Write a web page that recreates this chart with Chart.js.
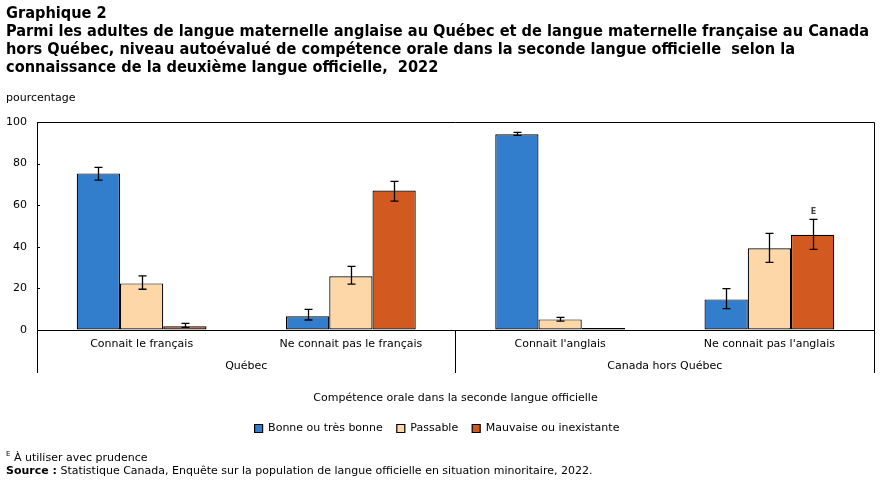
<!DOCTYPE html>
<html lang="fr">
<head>
<meta charset="utf-8">
<title>Graphique 2</title>
<script src="https://cdn.jsdelivr.net/npm/chart.js@4.4.1/dist/chart.umd.min.js"></script>
<style>
  html, body { margin: 0; padding: 0; background: #fff; }
  #wrap { position: relative; width: 880px; height: 480px; overflow: hidden; font-family: "DejaVu Sans", Verdana, sans-serif; color: #000; }
  #chart { position: absolute; left: 0; top: 0; }
  .titre { position: absolute; left: 6px; top: 4px; font: bold 16.2px/18px "DejaVu Sans Condensed", "DejaVu Sans", sans-serif; white-space: nowrap; }
  .unite { position: absolute; left: 6px; top: 91px; font-size: 11px; }
  .notes { position: absolute; left: 6px; top: 448px; font-size: 11px; line-height: 13px; }
  .notes sup { font-size: 7px; }
</style>
</head>
<body>
<div id="wrap">
  <canvas id="chart" width="880" height="480"></canvas>
  <div class="titre">Graphique 2<br>Parmi les adultes de langue maternelle anglaise au Québec et de langue maternelle française au Canada<br>hors Québec, niveau autoévalué de compétence orale dans la seconde langue officielle&nbsp; selon la<br>connaissance de la deuxième langue officielle,&nbsp; 2022</div>
  <div class="unite">pourcentage</div>
  <div class="notes"><sup>E</sup> À utiliser avec prudence<br><b>Source :</b> Statistique Canada, Enquête sur la population de langue officielle en situation minoritaire, 2022.</div>
</div>
<script>
(() => {
  const categories = ['Connait le français', 'Ne connait pas le français', "Connait l'anglais", "Ne connait pas l'anglais"];
  const groups = ['Québec', 'Canada hors Québec'];
  const series = ['Bonne ou très bonne', 'Passable', 'Mauvaise ou inexistante'];

  // valeurs (pourcentage)
  const bonne = [75.3, 6.6, 94.1, 14.7];
  const bonneBas = [72.1, 4.8, 93.6, 10.3];
  const bonneHaut = [78.2, 9.9, 95.0, 19.9];

  const passable = [22.4, 25.8, 5.1, 39.3];
  const passableBas = [19.6, 22.1, 4.3, 32.5];
  const passableHaut = [26.0, 30.6, 6.1, 46.5];

  const mauvaise = [1.8, 67.1, 0.3, 45.8];
  const mauvaiseBas = [1.3, 62.0, null, 38.8];
  const mauvaiseHaut = [3.2, 71.5, null, 53.2];
  const mauvaiseNotes = ['', '', '', 'E'];

  const yTicks = [0, 20, 40, 60, 80, 100];

  const family = '"DejaVu Sans", Verdana, sans-serif';
  Chart.defaults.font.family = family;
  Chart.defaults.font.size = 11;
  Chart.defaults.color = '#000';

  // barres d'erreur + lettre E
  const errorBars = {
    id: 'errorBars',
    afterDatasetsDraw(chart) {
      const ctx = chart.ctx;
      const y = chart.scales.y;
      chart.data.datasets.forEach((ds, i) => {
        const meta = chart.getDatasetMeta(i);
        meta.data.forEach((bar, j) => {
          const lo = ds.errLow[j], hi = ds.errHigh[j];
          if (lo == null || hi == null) return;
          const yl = y.getPixelForValue(lo), yh = y.getPixelForValue(hi);
          const x = Math.round(bar.x) + 0.5;
          ctx.save();
          ctx.strokeStyle = '#000';
          ctx.lineWidth = 1.3;
          ctx.beginPath();
          ctx.moveTo(x, yl); ctx.lineTo(x, yh);
          ctx.moveTo(x - 4, yl); ctx.lineTo(x + 4, yl);
          ctx.moveTo(x - 4, yh); ctx.lineTo(x + 4, yh);
          ctx.stroke();
          if (ds.notes && ds.notes[j]) {
            ctx.fillStyle = '#444';
            ctx.font = 'bold 8px ' + family;
            ctx.textAlign = 'center';
            ctx.textBaseline = 'bottom';
            ctx.fillText(ds.notes[j], x, yh - 3);
          }
          ctx.restore();
        });
      });
    }
  };

  // cadre haut / droite et petites graduations vers l'intérieur
  const frame = {
    id: 'frame',
    afterDraw(chart) {
      const { ctx, chartArea: a } = chart;
      const y = chart.scales.y;
      ctx.save();
      ctx.strokeStyle = '#000';
      ctx.lineWidth = 1;
      ctx.beginPath();
      ctx.moveTo(a.left, Math.round(a.top) + 0.5);
      ctx.lineTo(Math.round(a.right) + 0.5, Math.round(a.top) + 0.5);
      ctx.lineTo(Math.round(a.right) + 0.5, a.bottom);
      y.ticks.forEach(t => {
        const py = Math.round(y.getPixelForValue(t.value)) + 0.5;
        ctx.moveTo(a.left, py);
        ctx.lineTo(a.left + 3, py);
      });
      ctx.stroke();
      ctx.restore();
    }
  };

  new Chart(document.getElementById('chart').getContext('2d'), {
    type: 'bar',
    data: {
      labels: categories,
      datasets: [
        { label: series[0], data: bonne, errLow: bonneBas, errHigh: bonneHaut, backgroundColor: '#337ECC', borderColor: '#000', borderWidth: 1.2, borderSkipped: false },
        { label: series[1], data: passable, errLow: passableBas, errHigh: passableHaut, backgroundColor: '#FDD7A8', borderColor: '#000', borderWidth: 1.2, borderSkipped: false },
        { label: series[2], data: mauvaise, errLow: mauvaiseBas, errHigh: mauvaiseHaut, notes: mauvaiseNotes, backgroundColor: '#D2591F', borderColor: '#000', borderWidth: 1.2, borderSkipped: false }
      ]
    },
    options: {
      responsive: false,
      animation: false,
      devicePixelRatio: 1,
      categoryPercentage: 0.62,
      barPercentage: 1,
      minBarLength: 2,
      layout: { padding: { top: 122, left: 0, right: 6, bottom: 36 } },
      plugins: {
        title: { display: false },
        tooltip: { enabled: false },
        legend: {
          position: 'bottom',
          labels: { boxWidth: 8, boxHeight: 8, padding: 14, color: '#000', font: { size: 11, family } }
        }
      },
      scales: {
        y: {
          min: 0, max: 100,
          afterBuildTicks: s => { s.ticks = yTicks.map(v => ({ value: v })); },
          grid: { drawOnChartArea: false, drawTicks: false },
          border: { display: true, color: '#000', width: 1 },
          ticks: { padding: 10, color: '#000', font: { size: 11, family } },
          afterFit: s => { s.width = 37; }
        },
        x: {
          position: 'bottom',
          grid: {
            offset: true,
            drawOnChartArea: false,
            drawTicks: true,
            tickLength: 43,
            lineWidth: 1,
            color: c => (c.index === undefined || c.index % 2 === 0) ? '#000' : 'rgba(0,0,0,0)'
          },
          border: { display: true, color: '#000', width: 1 },
          ticks: { padding: -35, color: '#000', maxRotation: 0, autoSkip: false, font: { size: 11, family } },
          afterFit: s => { s.height = 21; }
        },
        x2: {
          type: 'category',
          labels: groups,
          position: 'bottom',
          offset: true,
          grid: { display: false, drawTicks: false },
          border: { display: false },
          ticks: { padding: 9, color: '#000', maxRotation: 0, autoSkip: false, font: { size: 11, family } },
          title: {
            display: true,
            text: 'Compétence orale dans la seconde langue officielle',
            color: '#000',
            font: { size: 11, family },
            padding: { top: 0, bottom: 4 }
          },
          afterFit: s => { s.height = 58; }
        }
      }
    },
    plugins: [errorBars, frame]
  });
})();
</script>
</body>
</html>
